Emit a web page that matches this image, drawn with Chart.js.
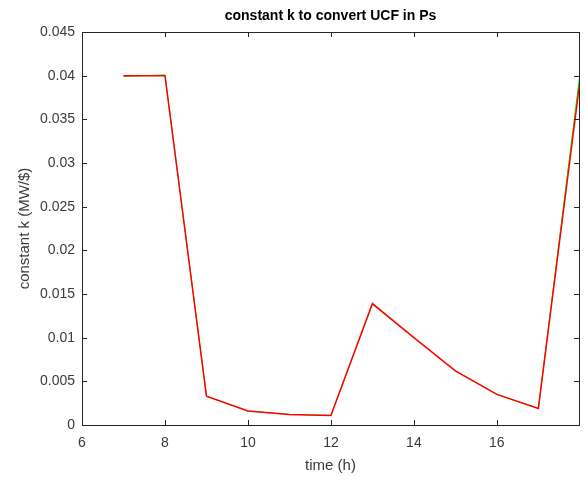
<!DOCTYPE html>
<html>
<head>
<meta charset="utf-8">
<script src="https://cdn.jsdelivr.net/npm/chart.js@4.4.0/dist/chart.umd.min.js"></script>
<style>
  html, body { margin: 0; padding: 0; background: #fff; }
  #wrap { width: 585px; height: 477px; }
</style>
</head>
<body>
<div id="wrap"><canvas id="kChart" width="585" height="477"></canvas></div>
<script>
// hours of the day
const hours = [7, 8, 9, 10, 11, 12, 13, 14, 15, 16, 17, 18];
// constant k (MW/$), two nearly identical curves
const kRed   = [0.0400, 0.0400, 0.0033, 0.0016, 0.0012, 0.0011, 0.0139, 0.0100, 0.0062, 0.0035, 0.0019, 0.0393];
const kGreen = [0.0399, 0.0401, 0.0033, 0.0016, 0.0012, 0.0011, 0.0138, 0.0100, 0.0062, 0.0035, 0.0019, 0.0402];
// axis ticks
const xTicks = [6, 8, 10, 12, 14, 16];
const yTicks = [0, 0.005, 0.01, 0.015, 0.02, 0.025, 0.03, 0.035, 0.04, 0.045];

const axisColor = "#262626";
const textColor = "#3a3a3a";
const font = "'Liberation Sans', Arial, Helvetica, sans-serif";

// MATLAB-like box with inward ticks on all four sides
const boxTicks = {
  id: "boxTicks",
  afterDraw(chart) {
    const { ctx, chartArea: a, scales: { x, y } } = chart;
    const len = 5;
    ctx.save();
    ctx.strokeStyle = axisColor;
    ctx.lineWidth = 1;
    ctx.beginPath();
    x.ticks.forEach(t => {
      const px = Math.round(x.getPixelForValue(t.value)) + 0.5;
      ctx.moveTo(px, a.bottom); ctx.lineTo(px, a.bottom - len);
      ctx.moveTo(px, a.top); ctx.lineTo(px, a.top + len);
    });
    y.ticks.forEach(t => {
      const py = Math.round(y.getPixelForValue(t.value)) + 0.5;
      ctx.moveTo(a.left, py); ctx.lineTo(a.left + len, py);
      ctx.moveTo(a.right, py); ctx.lineTo(a.right - len, py);
    });
    ctx.stroke();
    ctx.strokeRect(Math.round(a.left) + 0.5, Math.round(a.top) + 0.5,
      Math.round(a.right - a.left), Math.round(a.bottom - a.top));
    ctx.restore();
  }
};

const ctx = document.getElementById("kChart").getContext("2d");
new Chart(ctx, {
  type: "line",
  data: {
    datasets: [
      {
        label: "k red",
        data: hours.map((h, i) => ({ x: h, y: kRed[i] })),
        borderColor: "#ff0000",
        borderWidth: 1.5,
        pointRadius: 0,
        tension: 0,
        fill: false,
        order: 0,
      },
      {
        label: "k green",
        data: hours.map((h, i) => ({ x: h, y: kGreen[i] })),
        borderColor: "#00ff00",
        borderWidth: 1,
        pointRadius: 0,
        tension: 0,
        fill: false,
        order: 1,
      },
    ],
  },
  options: {
    responsive: false,
    animation: false,
    layout: { padding: { left: 0, right: 6, top: 0, bottom: 0 } },
    plugins: {
      legend: { display: false },
      tooltip: { enabled: false },
      title: {
        display: true,
        text: "constant k to convert UCF in Ps",
        fullSize: false,
        color: "#000",
        font: { family: font, size: 14, weight: "bold", lineHeight: 1.2 },
        padding: { top: 8, bottom: 7.2 },
      },
    },
    scales: {
      x: {
        type: "linear",
        min: 6,
        max: 17.98,
        grid: { display: false, drawTicks: false },
        border: { display: false },
        afterBuildTicks: s => { s.ticks = xTicks.map(v => ({ value: v })); },
        afterFit: s => { s.height = 52; },
        ticks: {
          color: textColor,
          padding: 10,
          maxRotation: 0,
          font: { family: font, size: 14 },
          callback: v => String(v),
        },
        title: {
          display: true,
          text: "time (h)",
          color: textColor,
          font: { family: font, size: 15, lineHeight: 1.2 },
          padding: { top: 0, bottom: 2 },
        },
      },
      y: {
        type: "linear",
        min: 0,
        max: 0.045,
        grid: { display: false, drawTicks: false },
        border: { display: false },
        afterBuildTicks: s => { s.ticks = yTicks.map(v => ({ value: v })); },
        afterFit: s => { s.width = 82; },
        ticks: {
          color: textColor,
          padding: 7,
          font: { family: font, size: 14 },
          callback: v => String(+v.toFixed(3)),
        },
        title: {
          display: true,
          text: "constant k (MW/$)",
          color: textColor,
          font: { family: font, size: 15, lineHeight: 1.2 },
          padding: { top: 16, bottom: 0 },
        },
      },
    },
  },
  plugins: [boxTicks],
});
</script>
</body>
</html>
